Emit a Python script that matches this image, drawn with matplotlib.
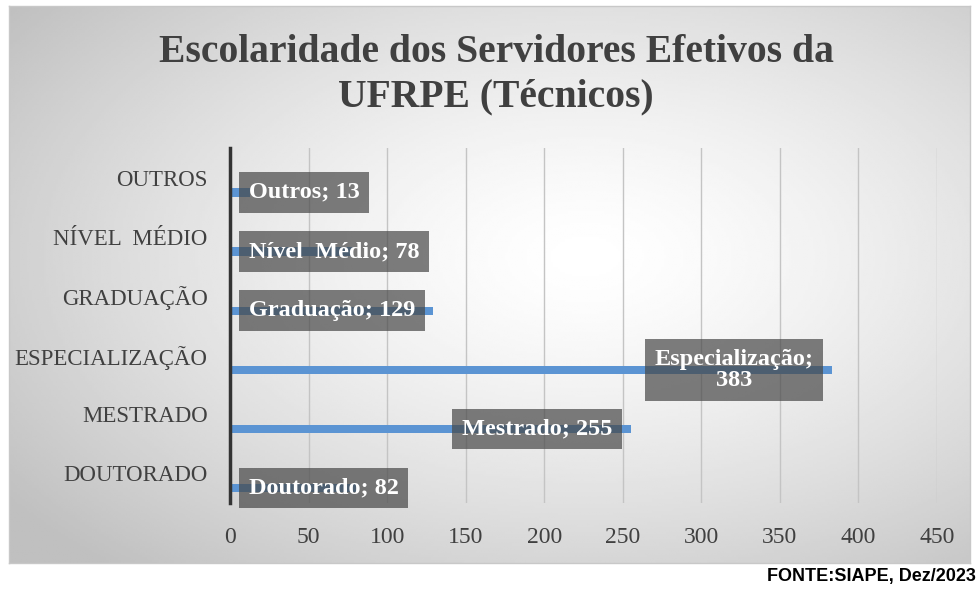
import numpy as np
import matplotlib.pyplot as plt

# data
categorias = ['DOUTORADO', 'MESTRADO', 'ESPECIALIZAÇÃO', 'GRADUAÇÃO', 'NÍVEL  MÉDIO', 'OUTROS']
rotulos = ['Doutorado', 'Mestrado', 'Especialização;\n', 'Graduação', 'Nível  Médio', 'Outros']
valores = [82, 255, 383, 129, 78, 13]
xticks = [0, 50, 100, 150, 200, 250, 300, 350, 400, 450]

fig = plt.figure(figsize=(9.78, 5.89), dpi=100)

# radial gradient background box
bg = fig.add_axes([9/978, 1 - 563/589, (970 - 9)/978, (563 - 6)/589])
nx, ny = 400, 240
xx, yy = np.meshgrid(np.linspace(0, 1, nx), np.linspace(0, 1, ny))
d = np.sqrt(((xx - 0.6) / 0.75) ** 2 + ((yy - 0.55) / 0.75) ** 2)
g = 1.0 - 0.25 * np.clip(d, 0, 1) ** 1.4
bg.imshow(g, cmap='gray', vmin=0, vmax=1, aspect='auto', extent=[0, 1, 0, 1], origin='lower')
bg.set_xticks([])
bg.set_yticks([])
for s in bg.spines.values():
    s.set_color('#c8c8c8')
    s.set_linewidth(1)

ax = fig.add_axes([230/978, 1 - 503/589, (937 - 230)/978, (503 - 148)/589])
ax.patch.set_alpha(0)

serif = 'Liberation Serif'
y = np.arange(len(categorias))
ax.barh(y - 0.25, valores, height=0.14, color='#5b94d3', zorder=2)

for i, v in enumerate(valores):
    nome = rotulos[i]
    if nome.endswith('\n'):
        txt = f'{nome}{v}'
    else:
        txt = f'{nome}; {v}'
    box = dict(boxstyle='square,pad=0.4', fc='#474747', ec='none', alpha=0.7)
    if v > 200:
        ax.annotate(txt, (v, y[i] - 0.25), xytext=(-13, 0), textcoords='offset points',
                    ha='right', va='center', color='white', fontsize=17.5, fontweight='bold',
                    family=serif, bbox=box, zorder=3, multialignment='center',
                    linespacing=1.0)
    else:
        ax.annotate(txt, (0, y[i] - 0.25), xytext=(13.5, 0), textcoords='offset points',
                    ha='left', va='center', color='white', fontsize=17.5, fontweight='bold',
                    family=serif, bbox=box, zorder=3)

ax.set_xlim(0, 450)
ax.set_ylim(-0.5, len(categorias) - 0.5)
ax.set_xticks(xticks)
ax.set_yticks(y)
ax.set_yticklabels(categorias)
ax.grid(axis='x', color='#c4c4c4', lw=1, zorder=0)
ax.tick_params(axis='y', length=0, labelsize=16.5, labelcolor='#404040', pad=16)
ax.tick_params(axis='x', length=0, labelsize=17, labelcolor='#404040', pad=17)
for lab in ax.get_xticklabels() + ax.get_yticklabels():
    lab.set_family(serif)
for s in ['top', 'right', 'bottom']:
    ax.spines[s].set_visible(False)
ax.spines['left'].set_color('#333333')
ax.spines['left'].set_linewidth(2.5)
ax.spines['left'].set_zorder(4)

fig.text(496/978, 1 - 75/589, 'Escolaridade dos Servidores Efetivos da\nUFRPE (Técnicos)',
         ha='center', va='center', fontsize=28.5, fontweight='bold', color='#404040',
         family=serif, linespacing=1.25)
fig.text(976/978, 1 - 576/589, 'FONTE:SIAPE, Dez/2023', ha='right', va='center',
         fontsize=13, fontweight='bold', family='Liberation Sans', color='black')

plt.savefig('out.png', dpi=100)
